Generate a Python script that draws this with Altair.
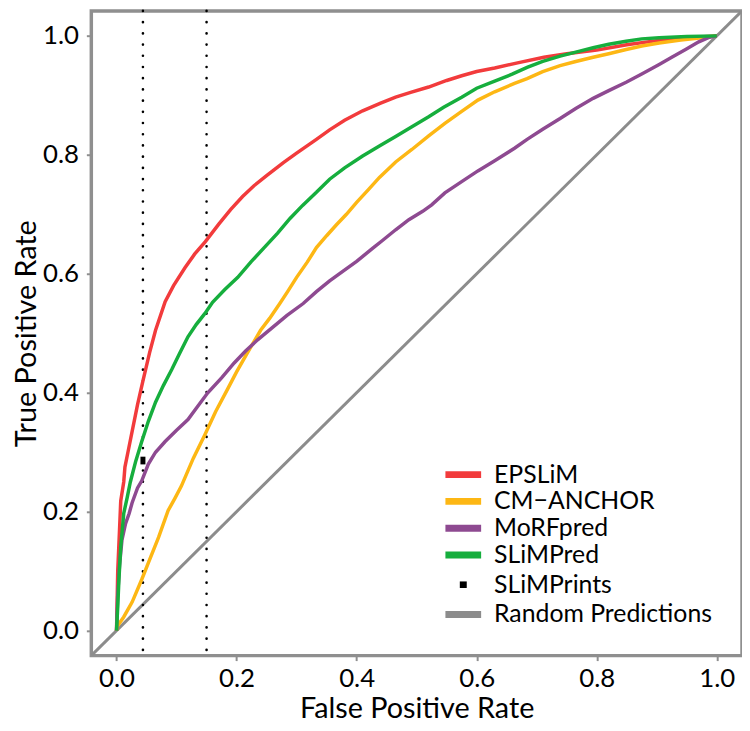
import altair as alt
import pandas as pd

# ---------------- data ----------------
series_names = ["EPSLiM", "CM\u2212ANCHOR", "MoRFpred", "SLiMPred", "SLiMPrints", "Random Predictions"]
series_colors = ["#F23B3C", "#FDB714", "#8E4A91", "#16AE3D", "#000000", "#8C8C8C"]

epslim_x = [0, 0.002, 0.005, 0.007, 0.012, 0.014, 0.02, 0.026, 0.035, 0.044, 0.055, 0.065, 0.081, 0.095,
            0.114, 0.13, 0.148, 0.17, 0.19, 0.21, 0.229, 0.25, 0.278, 0.30, 0.333, 0.355, 0.38, 0.41, 0.44,
            0.465, 0.49, 0.52, 0.55, 0.575, 0.60, 0.63, 0.67, 0.712, 0.75, 0.80, 0.85, 0.90, 0.95, 1.0]
epslim_y = [0, 0.10, 0.17, 0.218, 0.25, 0.275, 0.305, 0.335, 0.38, 0.42, 0.467, 0.505, 0.553, 0.58,
            0.61, 0.633, 0.654, 0.683, 0.708, 0.73, 0.748, 0.765, 0.787, 0.803, 0.826, 0.842, 0.858, 0.874, 0.887,
            0.897, 0.905, 0.914, 0.925, 0.933, 0.94, 0.946, 0.955, 0.964, 0.97, 0.976, 0.985, 0.992, 0.997, 1.0]

anchor_x = [0, 0.001, 0.012, 0.026, 0.042, 0.053, 0.07, 0.086, 0.097, 0.108, 0.128, 0.147, 0.165, 0.185,
            0.20, 0.218, 0.24, 0.255, 0.272, 0.285, 0.30, 0.318, 0.333, 0.35, 0.366, 0.383, 0.40, 0.42, 0.438,
            0.465, 0.492, 0.52, 0.547, 0.575, 0.602, 0.63, 0.663, 0.684, 0.71, 0.739, 0.765, 0.794, 0.82,
            0.849, 0.875, 0.904, 0.94, 0.975, 1.0]
anchor_y = [0, 0.007, 0.023, 0.048, 0.086, 0.114, 0.157, 0.202, 0.222, 0.243, 0.29, 0.329, 0.368, 0.406,
            0.435, 0.467, 0.505, 0.525, 0.55, 0.57, 0.594, 0.62, 0.644, 0.664, 0.682, 0.700, 0.72, 0.742, 0.762,
            0.788, 0.809, 0.832, 0.853, 0.873, 0.892, 0.906, 0.92, 0.928, 0.94, 0.95, 0.957, 0.964, 0.97,
            0.977, 0.983, 0.988, 0.993, 0.997, 1.0]

morf_x = [0, 0.002, 0.005, 0.009, 0.015, 0.021, 0.026, 0.035, 0.042, 0.053, 0.065, 0.081, 0.10, 0.119,
          0.135, 0.152, 0.175, 0.196, 0.215, 0.235, 0.26, 0.284, 0.311, 0.333, 0.355, 0.378, 0.40, 0.427,
          0.443, 0.465, 0.487, 0.51, 0.525, 0.547, 0.575, 0.602, 0.63, 0.663, 0.684, 0.71, 0.739, 0.765,
          0.794, 0.82, 0.849, 0.875, 0.904, 0.925, 0.948, 0.97, 0.986, 1.0]
morf_y = [0, 0.06, 0.11, 0.152, 0.18, 0.197, 0.215, 0.24, 0.252, 0.28, 0.30, 0.318, 0.337, 0.355,
          0.377, 0.40, 0.425, 0.45, 0.47, 0.489, 0.51, 0.53, 0.55, 0.57, 0.588, 0.605, 0.621, 0.643,
          0.656, 0.674, 0.691, 0.705, 0.716, 0.736, 0.755, 0.773, 0.79, 0.811, 0.826, 0.843, 0.861, 0.878,
          0.895, 0.908, 0.922, 0.936, 0.952, 0.964, 0.977, 0.99, 0.997, 1.0]

slimpred_x = [0, 0.002, 0.004, 0.007, 0.012, 0.018, 0.023, 0.032, 0.042, 0.053, 0.065, 0.078, 0.092, 0.105,
              0.119, 0.133, 0.147, 0.16, 0.18, 0.202, 0.224, 0.246, 0.268, 0.289, 0.31, 0.333, 0.355, 0.38,
              0.41, 0.44, 0.465, 0.49, 0.52, 0.545, 0.575, 0.60, 0.63, 0.66, 0.684, 0.71, 0.739, 0.77, 0.794,
              0.82, 0.849, 0.875, 0.904, 0.95, 1.0]
slimpred_y = [0, 0.04, 0.086, 0.141, 0.197, 0.225, 0.25, 0.285, 0.318, 0.352, 0.384, 0.412, 0.439, 0.466,
              0.494, 0.515, 0.533, 0.552, 0.573, 0.594, 0.62, 0.644, 0.668, 0.693, 0.715, 0.737, 0.759, 0.778,
              0.798, 0.816, 0.831, 0.846, 0.864, 0.88, 0.897, 0.912, 0.924, 0.936, 0.947, 0.957, 0.966, 0.974, 0.98,
              0.986, 0.991, 0.995, 0.997, 0.999, 1.0]

slimprints_x = [0.044]
slimprints_y = [0.286]

random_x = [-0.05, 1.05]
random_y = [-0.05, 1.05]

threshold_x = [0.044, 0.15]

x_ticks = [0.0, 0.2, 0.4, 0.6, 0.8, 1.0]
y_ticks = [0.0, 0.2, 0.4, 0.6, 0.8, 1.0]
dom = [-0.042, 1.042]

# ---------------- tables ----------------
def frame(name, xs, ys):
    return pd.DataFrame({"fpr": xs, "tpr": ys, "series": name, "ord": range(len(xs))})

df_rand = frame(series_names[5], random_x, random_y)
df_eps = frame(series_names[0], epslim_x, epslim_y)
df_anc = frame(series_names[1], anchor_x, anchor_y)
df_morf = frame(series_names[2], morf_x, morf_y)
df_slim = frame(series_names[3], slimpred_x, slimpred_y)
df_pts = frame(series_names[4], slimprints_x, slimprints_y)
df_thr = pd.DataFrame({"fpr": threshold_x})

xscale = alt.Scale(domain=dom, nice=False, zero=False)
yscale = alt.Scale(domain=dom, nice=False, zero=False)
X = alt.X("fpr:Q", scale=xscale,
          axis=alt.Axis(values=x_ticks, format=".1f", title="False Positive Rate",
                        labelPadding=5, titlePadding=3))
Y = alt.Y("tpr:Q", scale=yscale,
          axis=alt.Axis(values=y_ticks, format=".1f", title="True Positive Rate",
                        labelPadding=8, titlePadding=1))

line_path = "M-6,0H6"
sq_path = "M0,-1.1V1.1"
shape_range = [line_path, line_path, line_path, line_path, sq_path, line_path]

legend = alt.Legend(
    title=None, orient="none", legendX=362.5, legendY=455, padding=0,
    symbolSize=36, symbolStrokeWidth=7,
    labelFontSize=25, labelColor="black", labelOffset=18.5,
    labelLimit=400,
)

color = alt.Color("series:N", scale=alt.Scale(domain=series_names, range=series_colors), legend=legend)
shape = alt.Shape("series:N", scale=alt.Scale(domain=series_names, range=shape_range), legend=legend)

def line_layer(df, width=3.5):
    return alt.Chart(df).mark_line(clip=True).encode(
        x=X, y=Y, color=color, order="ord:Q", strokeWidth=alt.value(width))

thr = alt.Chart(df_thr).mark_rule(color="black", strokeWidth=2.6, strokeDash=[0.1, 11.2],
                                  strokeCap="round").encode(x=X)

pts = alt.Chart(df_pts).mark_point(filled=False, opacity=1).encode(
    x=X, y=Y, color=color, shape=shape, size=alt.value(50), strokeWidth=alt.value(5))

chart = alt.layer(
    line_layer(df_rand, 3),
    thr,
    line_layer(df_eps),
    line_layer(df_anc),
    line_layer(df_morf),
    line_layer(df_slim),
    pts,
).properties(
    width=656, height=650,
    autosize=alt.AutoSizeParams(type="none"),
    padding={"left": 84, "top": 0, "right": 0, "bottom": 65},
).configure(
    font="Lato",
).configure_view(
    stroke="#8F8F8F", strokeWidth=3.5,
).configure_axis(
    grid=False, domain=False, tickColor="#8F8F8F", tickSize=5, tickWidth=2,
    labelFontSize=26, labelColor="black", titleFontSize=29, titleFontWeight="normal",
    titleColor="black",
).configure_legend(
    rowPadding=-2,
)

chart.save("out.html", embed_options={"renderer": "svg", "actions": False})
